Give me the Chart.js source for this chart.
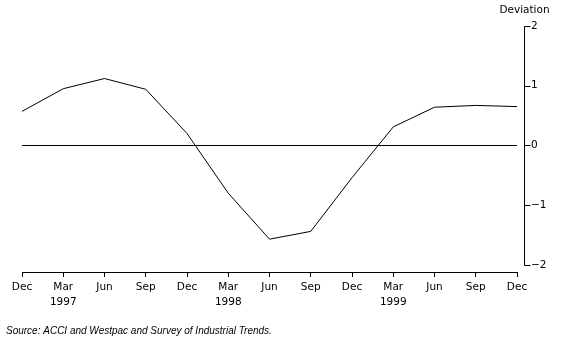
<!DOCTYPE html>
<html lang="en">
<head>
<meta charset="UTF-8">
<title>Deviation</title>
<script src="https://cdn.jsdelivr.net/npm/chart.js"></script>
<style>
  body { margin: 0; background: #fff; }
  #wrap { width: 574px; height: 352px; }
</style>
</head>
<body>
<div id="wrap"><canvas id="chart" width="574" height="352"></canvas></div>
<script>
  const months = ['Dec', 'Mar', 'Jun', 'Sep', 'Dec', 'Mar', 'Jun', 'Sep', 'Dec', 'Mar', 'Jun', 'Sep', 'Dec'];
  const years = ['', '1997', '', '', '', '1998', '', '', '', '1999', '', '', ''];
  const deviation = [0.57, 0.95, 1.12, 0.94, 0.20, -0.80, -1.57, -1.44, -0.54, 0.31, 0.64, 0.67, 0.65];
  const yTicks = [-2, -1, 0, 1, 2];
  const unitLabel = 'Deviation';
  const sourceText = 'Source: ACCI and Westpac and Survey of Industrial Trends.';

  const FONT = '"DejaVu Sans", sans-serif';

  // right axis is drawn a few px away from the plot, like the original
  const rightAxis = {
    id: 'rightAxis',
    afterDraw(chart) {
      const { ctx, chartArea, scales: { y } } = chart;
      const ax = Math.round(chartArea.right + 7) + 0.5;
      ctx.save();
      ctx.strokeStyle = '#000';
      ctx.lineWidth = 1;
      ctx.beginPath();
      ctx.moveTo(ax, Math.round(y.getPixelForValue(yTicks[yTicks.length - 1])) + 0.5);
      ctx.lineTo(ax, Math.round(y.getPixelForValue(yTicks[0])) + 0.5);
      yTicks.forEach(v => {
        const py = Math.round(y.getPixelForValue(v)) + 0.5;
        ctx.moveTo(ax, py);
        ctx.lineTo(ax + 6, py);
      });
      ctx.stroke();

      ctx.fillStyle = '#000';
      ctx.font = '10.5px ' + FONT;
      ctx.textAlign = 'center';
      ctx.textBaseline = 'middle';
      ctx.fillText(unitLabel, ax, 10);

      ctx.font = 'italic 10px "Liberation Sans", sans-serif';
      ctx.textAlign = 'left';
      ctx.fillText(sourceText, 6, 331);
      ctx.restore();
    }
  };

  new Chart(document.getElementById('chart'), {
    type: 'line',
    data: {
      labels: months.map((m, i) => [m, years[i]]),
      datasets: [{
        data: deviation,
        borderColor: '#000',
        borderWidth: 1,
        pointRadius: 0,
        tension: 0,
        fill: false
      }]
    },
    options: {
      responsive: false,
      animation: false,
      layout: { padding: { left: 22, top: 26, right: 0, bottom: 0 } },
      plugins: {
        legend: { display: false },
        tooltip: { enabled: false }
      },
      scales: {
        x: {
          offset: false,
          afterFit: s => { s.height = 80; },
          grid: { display: true, drawOnChartArea: false, drawTicks: true, tickLength: 5, color: '#000' },
          border: { display: true, color: '#000', width: 1 },
          ticks: {
            autoSkip: false,
            maxRotation: 0,
            padding: 3,
            color: '#000',
            font: { family: FONT, size: 10.5, lineHeight: 1.42 }
          }
        },
        y: {
          position: 'right',
          min: -2.12,
          max: 2,
          afterFit: s => { s.width = 57; },
          afterBuildTicks: s => { s.ticks = yTicks.map(v => ({ value: v })); },
          grid: {
            drawTicks: false,
            lineWidth: 1,
            color: c => (c.tick && c.tick.value === 0) ? '#000' : 'rgba(0,0,0,0)'
          },
          border: { display: false },
          ticks: {
            padding: 14,
            color: '#000',
            font: { family: FONT, size: 10.5 },
            callback: v => String(v).replace('-', '\u2212')
          }
        }
      }
    },
    plugins: [rightAxis]
  });
</script>
</body>
</html>
